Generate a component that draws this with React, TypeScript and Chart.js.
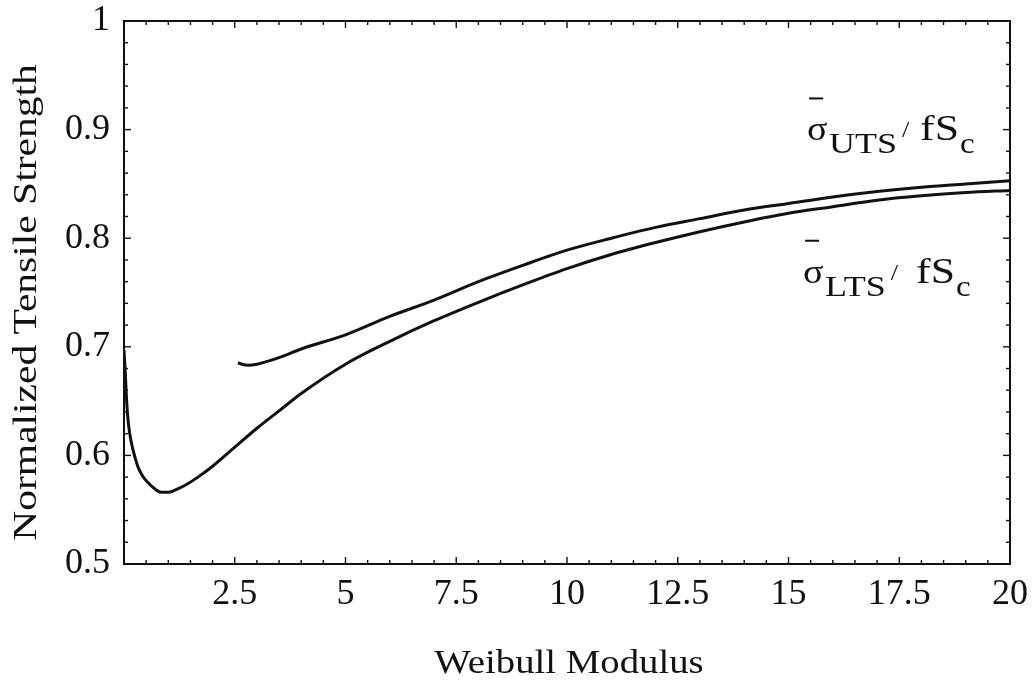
import React, { useEffect, useRef } from "react";
import { Chart, registerables } from "chart.js";

Chart.register(...registerables);

// ---- Data ----
const ltsX = [0.0, 0.03, 0.06, 0.1, 0.17, 0.25, 0.32, 0.42, 0.54, 0.7, 0.85, 1.0, 1.15, 1.4, 1.67, 2.0, 2.43, 3.0, 3.5, 4.0, 5, 6, 7, 8, 9, 10, 11, 12, 13, 14, 15, 16, 17, 18, 19, 20];
const ltsY = [0.697, 0.675, 0.65, 0.629, 0.611, 0.598, 0.589, 0.581, 0.575, 0.569, 0.566, 0.566, 0.568, 0.573, 0.58, 0.59, 0.605, 0.625, 0.641, 0.657, 0.684, 0.705, 0.724, 0.741, 0.757, 0.772, 0.785, 0.796, 0.806, 0.815, 0.823, 0.829, 0.835, 0.839, 0.842, 0.844];

const utsX = [2.57, 2.8, 3.0, 3.5, 4, 5, 6, 7, 8, 9, 10, 11, 12, 13, 14, 15, 16, 17, 18, 19, 20];
const utsY = [0.685, 0.683, 0.684, 0.69, 0.698, 0.711, 0.728, 0.743, 0.76, 0.775, 0.789, 0.8, 0.81, 0.818, 0.826, 0.832, 0.838, 0.843, 0.847, 0.85, 0.853];

const X_TICKS = [0, 2.5, 5, 7.5, 10, 12.5, 15, 17.5, 20];
const X_TICK_LABELS = ["", "2.5", "5", "7.5", "10", "12.5", "15", "17.5", "20"];
const Y_TICKS = [0.5, 0.6, 0.7, 0.8, 0.9, 1];
const Y_TICK_LABELS = ["0.5", "0.6", "0.7", "0.8", "0.9", "1"];

const X_TITLE = "Weibull Modulus";
const Y_TITLE = "Normalized Tensile Strength";

// annotation anchors in data coordinates (x, y of the sigma baseline)
const UTS_LABEL = { x: 15.42, y: 0.89, sub: "UTS" };
const LTS_LABEL = { x: 15.33, y: 0.759, sub: "LTS" };

const SERIF = '"Liberation Serif", "Times New Roman", serif';
const INK = "#111";

function stretchedText(ctx: CanvasRenderingContext2D, text: string, x: number, y: number, font: string, sx: number) {
  ctx.save();
  ctx.font = font;
  ctx.translate(x, y);
  ctx.scale(sx, 1);
  ctx.fillText(text, 0, 0);
  const w = ctx.measureText(text).width * sx;
  ctx.restore();
  return w;
}

function drawSigmaLabel(ctx: CanvasRenderingContext2D, x: number, y: number, sub: string) {
  ctx.textAlign = "left";
  ctx.textBaseline = "alphabetic";
  ctx.fillStyle = INK;
  stretchedText(ctx, "σ", x, y, `34px ${SERIF}`, 1.12);
  ctx.fillRect(x + 2, y - 43, 14, 2);
  const sw = stretchedText(ctx, sub, x + 22, y + 13, `30px ${SERIF}`, 1.2);
  stretchedText(ctx, "/", x + 22 + sw + 5, y - 3, `24px ${SERIF}`, 1.1);
  const fw = stretchedText(ctx, "fS", x + 113, y, `35px ${SERIF}`, 1.25);
  stretchedText(ctx, "c", x + 113 + fw + 1, y + 13, `30px ${SERIF}`, 1.1);
}

const framePlugin = {
  id: "frame",
  afterDatasetsDraw(chart: any) {
    const { ctx, chartArea: a, scales } = chart;
    const xs = scales.x;
    const ys = scales.y;
    ctx.save();
    ctx.strokeStyle = INK;
    ctx.lineWidth = 2;
    ctx.strokeRect(a.left, a.top, a.right - a.left, a.bottom - a.top);

    ctx.lineWidth = 1.4;
    const tick = (x1: number, y1: number, x2: number, y2: number) => {
      ctx.beginPath();
      ctx.moveTo(x1, y1);
      ctx.lineTo(x2, y2);
      ctx.stroke();
    };
    const MAJ = 7;
    const MIN = 4;
    for (let i = 0; i < X_TICKS.length; i++) {
      const px = xs.getPixelForValue(X_TICKS[i]);
      tick(px, a.bottom, px, a.bottom - MAJ);
      tick(px, a.top, px, a.top + MAJ);
      if (i < X_TICKS.length - 1) {
        const step = (X_TICKS[i + 1] - X_TICKS[i]) / 5;
        for (let k = 1; k < 5; k++) {
          const mx = xs.getPixelForValue(X_TICKS[i] + k * step);
          tick(mx, a.bottom, mx, a.bottom - MIN);
          tick(mx, a.top, mx, a.top + MIN);
        }
      }
    }
    for (let i = 0; i < Y_TICKS.length; i++) {
      const py = ys.getPixelForValue(Y_TICKS[i]);
      tick(a.left, py, a.left + MAJ, py);
      tick(a.right, py, a.right - MAJ, py);
      if (i < Y_TICKS.length - 1) {
        const step = (Y_TICKS[i + 1] - Y_TICKS[i]) / 5;
        for (let k = 1; k < 5; k++) {
          const my = ys.getPixelForValue(Y_TICKS[i] + k * step);
          tick(a.left, my, a.left + MIN, my);
          tick(a.right, my, a.right - MIN, my);
        }
      }
    }

    // axis titles
    ctx.fillStyle = INK;
    ctx.textAlign = "left";
    ctx.textBaseline = "alphabetic";
    ctx.font = `34px ${SERIF}`;
    const sxX = 1.14;
    const wX = ctx.measureText(X_TITLE).width * sxX;
    stretchedText(ctx, X_TITLE, (a.left + a.right) / 2 - wX / 2 + 2, 673, `34px ${SERIF}`, sxX);

    const sxY = 1.22;
    const wY = ctx.measureText(Y_TITLE).width * sxY;
    ctx.save();
    ctx.translate(36, (a.top + a.bottom) / 2 + 10);
    ctx.rotate(-Math.PI / 2);
    stretchedText(ctx, Y_TITLE, -wY / 2, 0, `34px ${SERIF}`, sxY);
    ctx.restore();

    // curve labels
    drawSigmaLabel(ctx, xs.getPixelForValue(UTS_LABEL.x), ys.getPixelForValue(UTS_LABEL.y), UTS_LABEL.sub);
    drawSigmaLabel(ctx, xs.getPixelForValue(LTS_LABEL.x), ys.getPixelForValue(LTS_LABEL.y), LTS_LABEL.sub);
    ctx.restore();
  },
};

export default function App() {
  const ref = useRef<HTMLCanvasElement | null>(null);
  useEffect(() => {
    if (!ref.current) return;
    const chart = new Chart(ref.current, {
      type: "line",
      data: {
        datasets: [
          {
            label: "LTS",
            data: ltsX.map((x, i) => ({ x, y: ltsY[i] })),
            borderColor: INK,
            borderWidth: 3,
            pointRadius: 0,
            fill: false,
            cubicInterpolationMode: "monotone",
          },
          {
            label: "UTS",
            data: utsX.map((x, i) => ({ x, y: utsY[i] })),
            borderColor: INK,
            borderWidth: 3,
            pointRadius: 0,
            fill: false,
            cubicInterpolationMode: "monotone",
          },
        ],
      },
      options: {
        animation: false,
        responsive: true,
        maintainAspectRatio: false,
        layout: { padding: { top: 21, right: 25, left: 0, bottom: 0 } },
        plugins: { legend: { display: false }, tooltip: { enabled: false } },
        events: [],
        scales: {
          x: {
            type: "linear",
            min: 0,
            max: 20,
            afterBuildTicks: (scale: any) => {
              scale.ticks = X_TICKS.map((v) => ({ value: v }));
            },
            afterFit: (scale: any) => {
              scale.height = 119;
              scale.paddingLeft = 0;
              scale.paddingRight = 0;
            },
            grid: { display: false, drawTicks: false },
            border: { display: false },
            ticks: {
              padding: 9,
              maxRotation: 0,
              autoSkip: false,
              color: INK,
              font: { family: SERIF, size: 36 },
              callback: (_v: any, i: number) => X_TICK_LABELS[i],
            },
          },
          y: {
            type: "linear",
            min: 0.5,
            max: 1,
            afterBuildTicks: (scale: any) => {
              scale.ticks = Y_TICKS.map((v) => ({ value: v }));
            },
            afterFit: (scale: any) => {
              scale.width = 124;
              scale.paddingTop = 0;
              scale.paddingBottom = 0;
            },
            grid: { display: false, drawTicks: false },
            border: { display: false },
            ticks: {
              padding: 14,
              autoSkip: false,
              color: INK,
              font: { family: SERIF, size: 36 },
              callback: (_v: any, i: number) => Y_TICK_LABELS[i],
            },
          },
        },
      },
      plugins: [framePlugin],
    } as any);
    return () => chart.destroy();
  }, []);

  return (
    <div style={{ position: "absolute", left: 0, top: 0, width: 1035, height: 683, background: "#fff" }}>
      <canvas ref={ref} />
    </div>
  );
}
